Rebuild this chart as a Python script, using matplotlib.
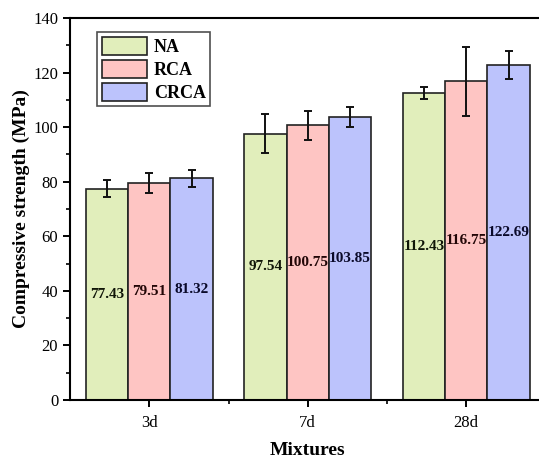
import matplotlib
matplotlib.use('Agg')
import matplotlib.pyplot as plt
from matplotlib.ticker import MultipleLocator, FixedLocator
import numpy as np

plt.rcParams['font.family'] = ['Liberation Serif', 'DejaVu Serif']

ages = ['3d', '7d', '28d']
series = ['NA', 'RCA', 'CRCA']
na = [77.43, 97.54, 112.43]
rca = [79.51, 100.75, 116.75]
crca = [81.32, 103.85, 122.69]
na_err = [3.2, 7.1, 2.1]
rca_err = [3.8, 5.3, 12.5]
crca_err = [3.1, 3.7, 5.1]

colors = ['#e1eebb', '#fec5c3', '#bcc3fc']
text_colors = ['#101508', '#220606', '#0a0a2a']

fig = plt.figure(figsize=(5.39, 4.59), dpi=100)
# right spine sits just past the canvas edge
ax = fig.add_axes([70/539, 59/459, 475.5/539, 382/459])

x = np.arange(len(ages))
w = 0.8/3
for i, (vals, errs) in enumerate(zip([na, rca, crca], [na_err, rca_err, crca_err])):
    pos = x + (i-1)*w
    ax.bar(pos, vals, w, color=colors[i], edgecolor='#222222', linewidth=1.2,
           label=series[i], zorder=2)
    ax.errorbar(pos, vals, yerr=errs, fmt='none', ecolor='#111111',
                elinewidth=1.4, capsize=3.2, capthick=1.4, zorder=3)
    for p, v in zip(pos, vals):
        ax.text(p, v/2, f'{v:.2f}', ha='center', va='center', fontsize=11,
                fontweight='bold', color=text_colors[i], zorder=4)

ax.set_xlim(-0.5, 2.5)
ax.set_ylim(0, 140)
ax.set_xticks(x)
ax.set_xticklabels(ages)
ax.xaxis.set_minor_locator(FixedLocator([0.5, 1.5]))
ax.yaxis.set_major_locator(MultipleLocator(20))
ax.yaxis.set_minor_locator(MultipleLocator(10))
ax.tick_params(axis='both', which='major', direction='out', length=5, width=1.4,
               labelsize=12)
ax.tick_params(axis='x', which='major', pad=6)
ax.tick_params(axis='both', which='minor', direction='out', length=3, width=1.2)
ax.tick_params(axis='y', which='both', right=False)
ax.tick_params(axis='x', which='both', top=False)
for s in ax.spines.values():
    s.set_linewidth(1.5)

ax.set_xlabel('Mixtures', fontsize=14, fontweight='bold', labelpad=8)
ax.set_ylabel('Compressive strength (MPa)', fontsize=14, fontweight='bold', labelpad=2)

leg = ax.legend(loc='upper left', bbox_to_anchor=(0.057, 0.963),
                prop={'weight': 'bold', 'size': 13}, frameon=True, fancybox=False,
                edgecolor='#222222', handlelength=2.5, handleheight=1.2,
                labelspacing=0.2, handletextpad=0.4, borderpad=0.25,
                borderaxespad=0)
leg.get_frame().set_linewidth(1.2)

fig.savefig('out.png', dpi=100)
